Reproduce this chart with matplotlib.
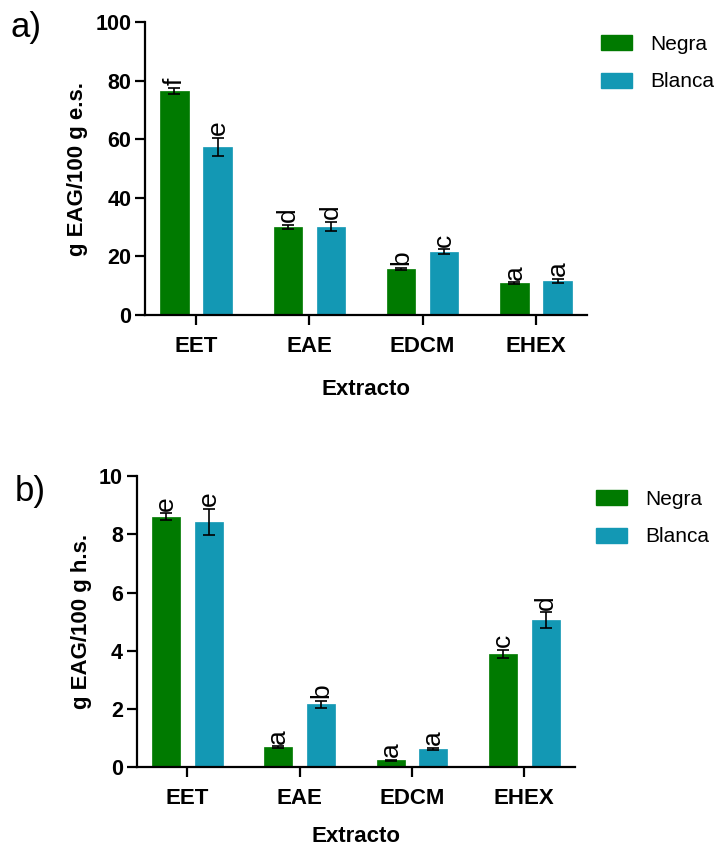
import numpy as np
import matplotlib
matplotlib.use("Agg")
import matplotlib.pyplot as plt
from matplotlib.patches import Patch

plt.rcParams['font.family'] = ['Liberation Sans', 'DejaVu Sans']

# data
categories = ['EET', 'EAE', 'EDCM', 'EHEX']
series_names = ['Negra', 'Blanca']

a_negra = [76.5, 30.1, 15.8, 10.8]
a_negra_err = [1.0, 0.7, 0.3, 0.3]
a_blanca = [57.3, 30.2, 21.6, 11.6]
a_blanca_err = [3.1, 1.5, 0.8, 0.6]
a_negra_letters = ['f', 'd', 'b', 'a']
a_blanca_letters = ['e', 'd', 'c', 'a']

b_negra = [8.60, 0.70, 0.24, 3.88]
b_negra_err = [0.12, 0.02, 0.02, 0.14]
b_blanca = [8.42, 2.16, 0.63, 5.05]
b_blanca_err = [0.45, 0.11, 0.03, 0.27]
b_negra_letters = ['e', 'a', 'a', 'c']
b_blanca_letters = ['e', 'b', 'a', 'd']

green = '#007a00'
teal = '#1398b4'


def draw_panel(ax, negra, negra_err, blanca, blanca_err, l_neg, l_bla,
               ymax, step, ylabel, xpad):
    x = np.arange(len(categories))
    w = 0.25
    off = 0.19
    for vals, errs, lets, col, dx in [(negra, negra_err, l_neg, green, -off),
                                      (blanca, blanca_err, l_bla, teal, off)]:
        ax.bar(x + dx, vals, width=w, color=col, edgecolor=col,
               linewidth=0.5, zorder=2)
        ax.errorbar(x + dx, vals, yerr=errs, fmt='none', ecolor='black',
                    elinewidth=1.2, capsize=4.5, capthick=1.2, zorder=3)
        for xi, v, e, t in zip(x + dx, vals, errs, lets):
            ax.annotate(t, (xi, v + e), xytext=(0, 2), textcoords='offset points',
                        rotation=90, ha='center', va='bottom', fontsize=19)
    ax.set_xlim(-0.45, 3.45)
    ax.set_ylim(0, ymax)
    ax.set_yticks(np.arange(0, ymax + step / 2, step))
    ax.set_xticks(x)
    ax.set_xticklabels(categories, fontweight='bold', fontsize=16)
    for lab in ax.get_yticklabels():
        lab.set_fontweight('bold')
        lab.set_fontsize(15.5)
    ax.spines['top'].set_visible(False)
    ax.spines['right'].set_visible(False)
    ax.spines['left'].set_linewidth(1.6)
    ax.spines['bottom'].set_linewidth(1.6)
    ax.tick_params(axis='y', length=7, width=1.6, pad=3)
    ax.tick_params(axis='x', length=7, width=1.6, pad=8)
    ax.set_ylabel(ylabel, fontweight='bold', fontsize=16, labelpad=5)
    ax.set_xlabel('Extracto', fontweight='bold', fontsize=16, labelpad=xpad)


fig = plt.figure(figsize=(7.24, 8.49), dpi=100)

ax1 = fig.add_axes([0.2003, 0.629, 0.6105, 0.345])
draw_panel(ax1, a_negra, a_negra_err, a_blanca, a_blanca_err,
           a_negra_letters, a_blanca_letters, 100, 20, 'g EAG/100 g e.s.', 16)

ax2 = fig.add_axes([0.189, 0.0962, 0.605, 0.3431])
draw_panel(ax2, b_negra, b_negra_err, b_blanca, b_blanca_err,
           b_negra_letters, b_blanca_letters, 10, 2, 'g EAG/100 g h.s.', 12)

handles = [Patch(facecolor=green, edgecolor=green),
           Patch(facecolor=teal, edgecolor=teal)]
for ax, xpos, ypos in [(ax1, 0.8045, 0.981), (ax2, 0.7976, 0.445)]:
    fig.legend(handles, series_names, loc='upper left',
               bbox_to_anchor=(xpos, ypos), frameon=False, fontsize=15,
               handlelength=1.5, handleheight=0.72, handletextpad=0.87,
               labelspacing=0.89)

fig.text(0.014, 0.968, 'a)', fontsize=25, va='center', ha='left')
fig.text(0.020, 0.4205, 'b)', fontsize=25, va='center', ha='left')

fig.savefig('out.png', dpi=100)
